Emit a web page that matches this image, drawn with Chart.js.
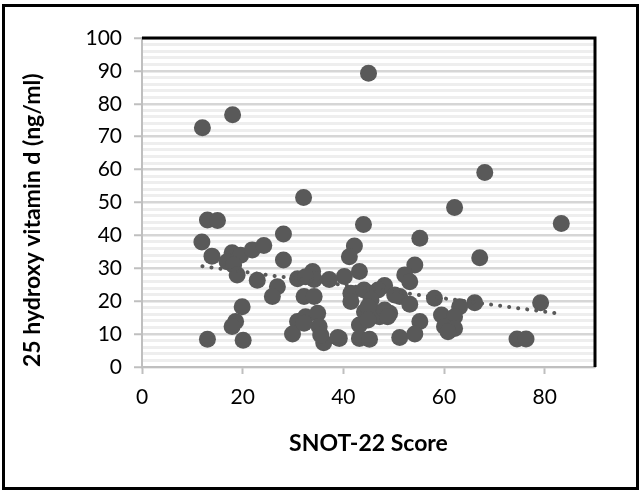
<!DOCTYPE html>
<html><head><meta charset="utf-8">
<script src="https://cdn.jsdelivr.net/npm/chart.js@4.4.1/dist/chart.umd.min.js"></script>
<style>
html,body{margin:0;padding:0;background:#fff;}
#wrap{position:relative;width:642px;height:493px;overflow:hidden;}
#frame{position:absolute;left:2px;top:4px;width:637px;height:486px;border:3px solid #000;box-sizing:border-box;pointer-events:none;}
canvas{position:absolute;left:0;top:0;}
</style></head><body>
<div id="wrap"><canvas id="c" width="642" height="493"></canvas><div id="frame"></div></div>
<script>
const snotScores = [12.0,18.0,45.0,32.1,68.1,62.1,83.3,67.1,79.2,74.5,
  76.3,66.1,44.0,55.2,42.2,41.2,54.2,52.2,53.2,43.2,
  40.2,37.2,48.2,45.2,41.5,41.5,51.2,53.2,58.1,63.1,
  59.5,62.1,55.2,60.1,62.1,60.8,49.2,47.2,44.2,43.2,
  39.2,43.2,45.2,51.2,54.2,13.0,15.0,11.9,28.1,13.9,
  17.9,19.6,21.9,24.2,16.9,18.2,18.9,28.1,22.9,26.9,
  25.9,30.9,33.9,34.2,32.2,34.2,19.9,18.6,17.9,13.0,
  20.1,30.9,32.5,34.9,35.2,29.9,36.1,38.9,35.5,44.1,
  46.9,45.5,46.9,44.9,48.2,48.8,44.9,50.2,32.5,32.2];
const vitaminD = [72.7,76.7,89.3,51.5,59.1,48.5,43.6,33.2,19.5,8.5,
  8.5,19.5,43.3,39.1,36.8,33.5,31.0,28.0,25.9,29.0,
  27.5,26.6,24.8,22.4,22.4,19.9,21.4,19.1,20.9,18.3,
  15.8,15.3,13.8,12.3,11.7,10.7,16.3,15.3,16.8,12.8,
  8.7,8.7,8.4,9.0,10.0,44.7,44.5,38.0,40.4,33.7,
  34.7,34.0,35.6,36.9,32.0,31.0,28.0,32.5,26.4,24.4,
  21.4,26.8,29.0,26.6,21.4,21.4,18.3,13.8,12.3,8.4,
  8.1,13.8,15.3,16.3,12.3,10.0,7.4,9.0,9.7,23.4,
  23.4,20.4,16.4,18.3,17.3,15.3,14.3,21.9,27.4,13.3];
const trendX = [12, 83];
const trendY = [30.6, 16.2];
const xTicks = [0, 20, 40, 60, 80];
const yLabelStep = 10;
const xTitle = 'SNOT-22 Score';
const yTitle = '25 hydroxy vitamin d (ng/ml)';

const FONT = 'Lato, "Open Sans", sans-serif';
const plotFrame = {
  id: 'plotFrame',
  afterDatasetsDraw(chart) {
    const {ctx, chartArea: a} = chart;
    ctx.save();
    ctx.strokeStyle = '#000';
    ctx.lineWidth = 3;
    ctx.beginPath();
    ctx.moveTo(a.left, a.top);
    ctx.lineTo(a.right, a.top);
    ctx.lineTo(a.right, a.bottom);
    ctx.stroke();
    ctx.restore();
  }
};
const isMajor = v => Math.abs(v % yLabelStep) < 1e-6;

new Chart(document.getElementById('c'), {
  data: {
    datasets: [
      {
        type: 'line',
        order: 0,
        data: trendX.map((x, i) => ({x, y: trendY[i]})),
        borderColor: '#595959',
        borderWidth: 4,
        borderDash: [0.1, 9],
        borderCapStyle: 'round',
        pointRadius: 0,
        fill: false
      },
      {
        type: 'scatter',
        order: 1,
        data: snotScores.map((x, i) => ({x, y: vitaminD[i]})),
        backgroundColor: '#595959',
        borderWidth: 0,
        pointRadius: 8.5,
        pointHoverRadius: 8.5
      }
    ]
  },
  options: {
    responsive: false,
    animation: false,
    devicePixelRatio: 1,
    layout: {padding: {top: 38, right: 47, left: 0, bottom: 0}},
    plugins: {legend: {display: false}, tooltip: {enabled: false}},
    events: [],
    scales: {
      x: {
        type: 'linear',
        min: 0, max: 90,
        afterBuildTicks: s => { s.ticks = xTicks.map(v => ({value: v})); },
        ticks: {font: {family: FONT, size: 21}, color: '#000', padding: 11},
        grid: {drawOnChartArea: false, tickLength: 7, tickColor: '#bfbfbf', tickWidth: 2},
        border: {color: '#bfbfbf', width: 2},
        title: {display: true, text: xTitle, font: {family: FONT, size: 23, weight: 'bold'}, color: '#000', padding: {top: 10, bottom: 36}},
        afterFit: s => { s.height = 126; }
      },
      y: {
        type: 'linear',
        min: 0, max: 100,
        ticks: {
          stepSize: 2, autoSkip: false,
          callback: v => isMajor(v) ? String(v) : '',
          font: {family: FONT, size: 21}, color: '#000', padding: 12
        },
        grid: {
          color: c => isMajor(c.tick.value) ? '#d6d6d6' : '#eeeeee',
          lineWidth: c => isMajor(c.tick.value) ? 2.5 : 3,
          tickColor: c => isMajor(c.tick.value) ? '#bfbfbf' : 'rgba(0,0,0,0)',
          tickLength: 8, tickWidth: 2
        },
        border: {color: '#bfbfbf', width: 2},
        title: {display: true, text: yTitle, align: 'start', font: {family: FONT, size: 23, weight: 'bold'}, color: '#000', padding: {top: 19}},
        afterFit: s => { s.width = 142; }
      }
    }
  },
  plugins: [plotFrame]
});
</script>
</body></html>
